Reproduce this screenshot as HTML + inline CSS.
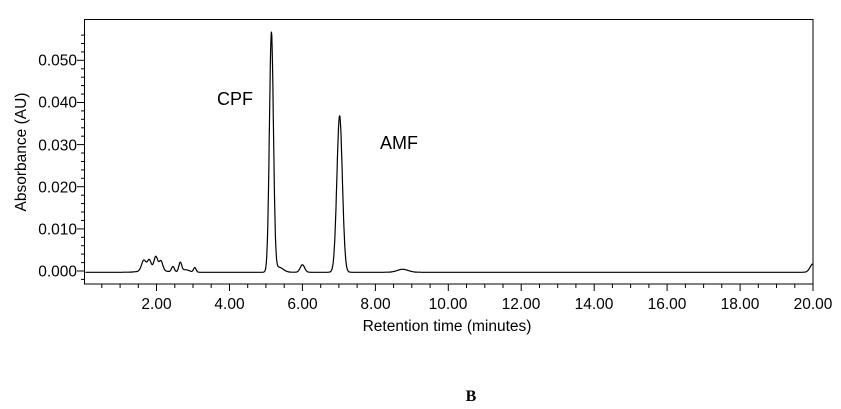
<!DOCTYPE html>
<html><head><meta charset="utf-8"><style>
html,body{margin:0;padding:0;background:#fff;}
svg{display:block;font-family:"Liberation Sans",Arial,sans-serif;}
</style></head><body>
<svg id="s" width="841" height="409" viewBox="0 0 841 409" xmlns="http://www.w3.org/2000/svg">
<rect x="84.5" y="19.5" width="728.5" height="264.5" fill="none" stroke="#000" stroke-width="1"/>
<g id="ticks" stroke="#000" stroke-width="1"></g>
<g font-size="15.5" fill="#000" text-anchor="end">
<text x="77" y="276.5">0.000</text>
<text x="77" y="234.5">0.010</text>
<text x="77" y="192.5">0.020</text>
<text x="77" y="150.5">0.030</text>
<text x="77" y="107.5">0.040</text>
<text x="77" y="65.5">0.050</text>
</g>
<g font-size="15.5" fill="#000" text-anchor="middle">
<text x="156.5" y="309">2.00</text>
<text x="229.5" y="309">4.00</text>
<text x="302.5" y="309">6.00</text>
<text x="375.5" y="309">8.00</text>
<text x="448" y="309">10.00</text>
<text x="521" y="309">12.00</text>
<text x="594" y="309">14.00</text>
<text x="667" y="309">16.00</text>
<text x="740" y="309">18.00</text>
<text x="813" y="309">20.00</text>
<text x="447" y="331">Retention time (minutes)</text>
<text transform="translate(26,152) rotate(-90)">Absorbance (AU)</text>
</g>
<text x="217" y="105" font-size="18">CPF</text>
<text x="380" y="149" font-size="18">AMF</text>
<text x="471" y="401" font-size="16" font-weight="bold" font-family="Liberation Serif,serif" text-anchor="middle">B</text>
<path id="p" fill="none" stroke="#000" stroke-width="1.2"/>
</svg>
<script>
var X=function(t){return 83.6+36.47*t},Y=function(a){return 271-4213*a};
var g=document.getElementById('ticks'),h='';
for(var t=0.5;t<=20.01;t+=0.5){var x=X(t).toFixed(1);var maj=Math.abs(t/2-Math.round(t/2))<0.01;h+='<line x1="'+x+'" y1="284" x2="'+x+'" y2="'+(maj?291:288)+'"/>';}
for(var a=-0.002;a<=0.0561;a+=0.002){var y=Y(a).toFixed(1);var maj=Math.abs(a/0.01-Math.round(a/0.01))<0.01;h+='<line x1="84.5" y1="'+y+'" x2="'+(maj?77:81)+'" y2="'+y+'"/>';}
g.innerHTML=h;
function G(t,c,w,a){return a*Math.exp(-0.5*Math.pow((t-c)/w,2));}
var d='';
for(var t=0.05;t<=20;t+=0.01){
var a=-0.0003+G(t,5.15,0.055,0.0568)+G(t,5.35,0.12,0.0012)+G(t,7.02,0.075,0.0372)+G(t,6.0,0.06,0.0018)
+G(t,1.65,0.06,0.0024)+G(t,1.8,0.05,0.0022)+G(t,1.98,0.05,0.003)+G(t,2.12,0.05,0.0022)+G(t,1.9,0.25,0.0008)
+G(t,2.45,0.04,0.0013)+G(t,2.65,0.04,0.0022)+G(t,2.8,0.1,0.0006)+G(t,3.05,0.035,0.0011)
+G(t,8.75,0.15,0.0007)+G(t,20,0.08,0.002);
d+=(d?'L':'M')+X(t).toFixed(1)+' '+Y(a).toFixed(1);}
document.getElementById('p').setAttribute('d',d);
</script>
</body></html>
